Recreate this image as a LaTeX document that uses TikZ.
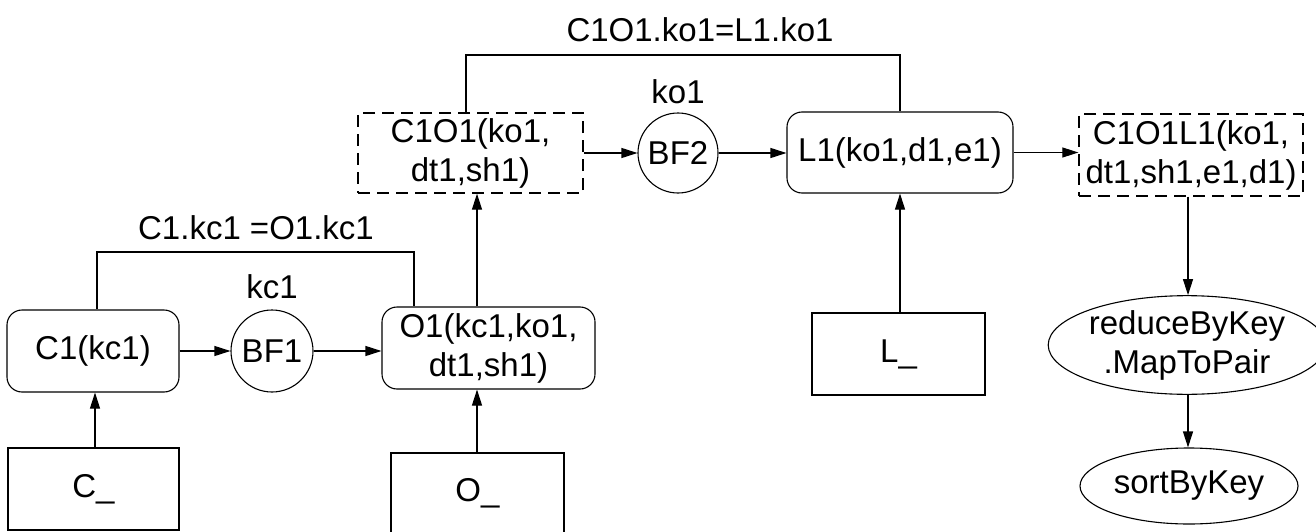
\documentclass[tikz,border=0pt]{standalone}
\usepackage{fontspec}
\setmainfont{Liberation Sans}
\usetikzlibrary{arrows.meta,shapes.geometric}
\begin{document}
\begin{tikzpicture}[x=1pt,y=-1pt,
  every node/.style={font=\fontsize{33}{39}\selectfont, inner sep=0pt, align=center},
  proc/.style={draw, rounded corners=15pt, line width=1.1pt},
  src/.style={draw, line width=1.1pt},
  tmp/.style={draw, dash pattern=on 12pt off 7pt, line width=1.3pt},
  filt/.style={draw, circle, line width=1.1pt},
  op/.style={draw, ellipse, line width=1.1pt},
  flow/.style={line width=1.1pt, -{Triangle[length=16pt,width=10pt]}},
  joinline/.style={line width=1.1pt}]
\useasboundingbox (0,0) rectangle (1316,532);

% sources
\node[src, minimum width=171pt, minimum height=82pt] (Csrc) at (93.5,489) {C\_};
\node[src, minimum width=173pt, minimum height=80pt] (Osrc) at (477.5,493) {O\_};
\node[src, minimum width=173pt, minimum height=82pt] (Lsrc) at (898.5,354) {L\_};

% tables
\node[proc, minimum width=172pt, minimum height=82pt] (C1) at (93,351) {C1(kc1)};
\node[proc, minimum width=213pt, minimum height=82pt] (O1) at (488.5,348) {O1(kc1,ko1,\\dt1,sh1)};
\node[proc, minimum width=226pt, minimum height=81pt] (L1) at (900,152.5) {L1(ko1,d1,e1)};

% bloom filters
\node[filt, minimum size=82pt] (BF1) at (272,351) {BF1};
\node[filt, minimum size=80pt] (BF2) at (678,153) {BF2};
\node (k1) at (272,287) {kc1};
\node (k2) at (678,92) {ko1};

% intermediate results
\node[tmp, minimum width=225pt, minimum height=80pt] (C1O1) at (470.5,153) {C1O1(ko1,\\dt1,sh1)};
\node[tmp, minimum width=224pt, minimum height=82pt] (C1O1L1) at (1191,155) {C1O1L1(ko1,\\dt1,sh1,e1,d1)};

% final operations
\node[op, minimum width=252pt, minimum height=90pt] (red) at (1187,345) {reduceByKey\\.MapToPair};
\node[op, minimum width=218pt, minimum height=76pt] (sort) at (1189,486) {sortByKey};

% join conditions
\node (j1) at (256,228) {C1.kc1 =O1.kc1};
\node (j2) at (700,30) {C1O1.ko1=L1.ko1};
\coordinate (a1) at (97,252);
\coordinate (a2) at (414,252);
\coordinate (b1) at (466,55);
\coordinate (b2) at (900,55);
\draw[joinline] (C1.north -| a1) -- (a1) -- (a2) -- (O1.north -| a2);
\draw[joinline] (C1O1.north -| b1) -- (b1) -- (b2) -- (L1.north -| b2);

% columns of the vertical flows
\coordinate (xc) at (95,0);
\coordinate (xo) at (477,0);
\coordinate (xl) at (900,0);
\coordinate (xr) at (1188,0);

% data flow
\draw[flow] (Csrc.north -| xc) -- (C1.south -| xc);
\draw[flow] (C1.east |- BF1) -- (BF1);
\draw[flow] (BF1.east) -- (BF1.east -| O1.west);
\draw[flow] (Osrc.north -| xo) -- (O1.south -| xo);
\draw[flow] (O1.north -| xo) -- (C1O1.south -| xo);
\draw[flow] (C1O1.east) -- (BF2.west);
\draw[flow] (BF2.east) -- (BF2.east -| L1.west);
\draw[flow] (Lsrc.north -| xl) -- (L1.south -| xl);
\draw[flow] (L1.east) -- (L1.east -| C1O1L1.west);
\draw[flow] (C1O1L1.south -| xr) -- (red.north -| xr);
\draw[flow] (red.south -| xr) -- (sort.north -| xr);
\end{tikzpicture}
\end{document}
